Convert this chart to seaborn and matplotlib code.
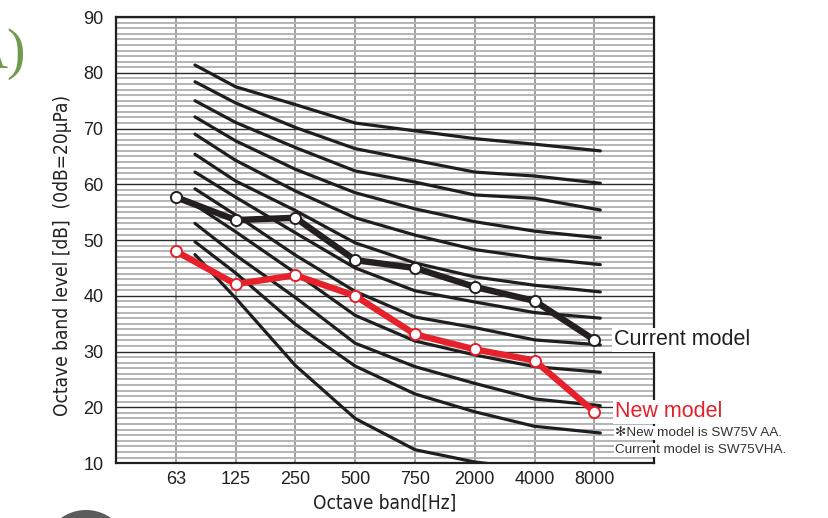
# Octave band level: NC curves vs current / new model
import numpy as np
import pandas as pd
import seaborn as sns
import matplotlib.pyplot as plt
from matplotlib.patches import Circle
from matplotlib.transforms import IdentityTransform

# bands on the x axis
bands = ["63", "125", "250", "500", "750", "2000", "4000", "8000"]

# measured spectra (dB)
current_model = [57.7, 53.6, 54.0, 46.4, 45.0, 41.6, 39.1, 32.1]
new_model = [48.0, 42.1, 43.7, 40.0, 33.1, 30.4, 28.4, 19.2]

# background criterion curves, sampled where they were drawn
nc_pos = [0.32, 1, 2, 3, 4, 5, 6, 7.1]
nc_1 = [81.4, 77.5, 74.3, 71.0, 69.6, 68.2, 67.2, 66.0]
nc_2 = [78.4, 74.6, 70.2, 66.4, 64.3, 62.2, 61.5, 60.2]
nc_3 = [75.0, 71.1, 66.6, 62.4, 60.4, 58.1, 57.5, 55.4]
nc_4 = [72.1, 67.8, 62.7, 58.5, 55.6, 53.3, 51.6, 50.4]
nc_5 = [69.0, 64.3, 58.8, 54.0, 50.9, 48.3, 46.8, 45.6]
nc_6 = [65.4, 60.6, 55.3, 49.5, 45.9, 43.4, 41.9, 40.7]
nc_7 = [62.2, 57.7, 51.3, 45.0, 40.9, 38.9, 37.0, 36.0]
nc_8 = [59.2, 54.5, 47.3, 40.8, 36.2, 34.3, 32.1, 31.2]
nc_9 = [56.3, 51.5, 44.1, 36.5, 31.9, 29.4, 27.3, 26.3]
nc_10 = [53.0, 47.3, 39.7, 31.5, 27.3, 24.3, 21.5, 20.3]
nc_11 = [49.7, 44.1, 34.9, 27.4, 22.4, 19.2, 16.6, 15.4]
nc_12 = [47.4, 39.6, 27.5, 18.0, 12.4, 10.2, 8.9, 8.0]
nc_curves = [nc_1, nc_2, nc_3, nc_4, nc_5, nc_6, nc_7, nc_8, nc_9, nc_10, nc_11, nc_12]

INK = "#231f20"
RED = "#e6212b"

sns.set_theme(style="white")
plt.rcParams['font.family'] = ['Liberation Sans', 'DejaVu Sans']
plt.rcParams['axes.unicode_minus'] = False

nc_df = pd.DataFrame([
    {"curve": i, "pos": p, "level": v}
    for i, vals in enumerate(nc_curves)
    for p, v in zip(nc_pos, vals)
])

fig = plt.figure(figsize=(8.29, 5.18), dpi=100)
ax = fig.add_axes([0.14, 0.106, 0.649, 0.861])

# criterion curves
sns.lineplot(data=nc_df, x="pos", y="level", units="curve", estimator=None,
             color="#1e1e1e", lw=2.3, legend=False, ax=ax, zorder=2)

x = np.arange(len(bands))
sns.lineplot(x=x, y=current_model, color=INK, lw=4.6, marker="o", markersize=8,
             markerfacecolor="white", markeredgecolor=INK, markeredgewidth=1.4,
             ax=ax, zorder=4)
sns.lineplot(x=x, y=new_model, color=RED, lw=4.6, marker="o", markersize=8,
             markerfacecolor="white", markeredgecolor=RED, markeredgewidth=1.4,
             ax=ax, zorder=4)

# axes, grid
ax.set_xlim(-1, 8)
ax.set_ylim(10, 90)
ax.set_xticks(x)
ax.set_xticklabels(bands)
ax.set_yticks(range(10, 91, 10))
ax.set_yticks(range(10, 91), minor=True)
ax.set_axisbelow(True)
ax.grid(which="minor", axis="y", color="#b4b4b4", lw=1.4)
ax.grid(which="major", axis="y", color="#2a2a2a", lw=1.0)
ax.grid(which="major", axis="x", color="#9a9a9a", lw=1.3)
ax.tick_params(axis="both", which="both", length=0, labelsize=13, labelcolor=INK)
ax.tick_params(axis="y", pad=9)
ax.tick_params(axis="x", pad=6)
for s in ax.spines.values():
    s.set_visible(True)
    s.set_color(INK)
    s.set_linewidth(1.6)

# condensed face for the axis titles
ax.set_xlabel("Octave band[Hz]", fontsize=13.6, family="DejaVu Sans",
              fontstretch="condensed", color=INK)
ax.xaxis.set_label_coords(0.5, -0.09)
ax.xaxis.label.set_va("center")
ax.set_ylabel("Octave band level [dB]  (0dB=20μPa)", fontsize=13.7, family="DejaVu Sans",
              fontstretch="condensed", color=INK)
ax.yaxis.set_label_coords(-0.1, 0.466)
ax.yaxis.label.set_va("center")

# labels next to the last points
box = dict(boxstyle="square,pad=0.08", fc="white", ec="none")
ax.annotate("Current model", xy=(x[-1], current_model[-1]), xytext=(14, 0),
            textcoords="offset points", va="center", ha="left", fontsize=15.5,
            color=INK, bbox=box, zorder=6)
ax.annotate("New model", xy=(x[-1], new_model[-1]), xytext=(15, 0),
            textcoords="offset points", va="center", ha="left", fontsize=15.5,
            color=RED, bbox=box, zorder=6)
ax.annotate("✻New model is SW75V AA.", xy=(x[-1], new_model[-1]), xytext=(15, -15),
            textcoords="offset points", va="center", ha="left", fontsize=9.7,
            color="#333333", bbox=box, zorder=6, annotation_clip=False)
ax.annotate("Current model is SW75VHA.", xy=(x[-1], new_model[-1]), xytext=(15, -27.5),
            textcoords="offset points", va="center", ha="left", fontsize=9.7,
            color="#333333", bbox=box, zorder=6, annotation_clip=False)

# bits of the surrounding page
fig.text(26 / 829, 1 - 54 / 518, "A)", ha="right", va="center", fontsize=40,
         color="#6f9a4f", family="Liberation Serif")
fig.patches.append(Circle((86, -35), 43, transform=IdentityTransform(),
                          fc="#5c5c5c", ec="none"))

plt.savefig("out.png", dpi=100)
plt.close()
